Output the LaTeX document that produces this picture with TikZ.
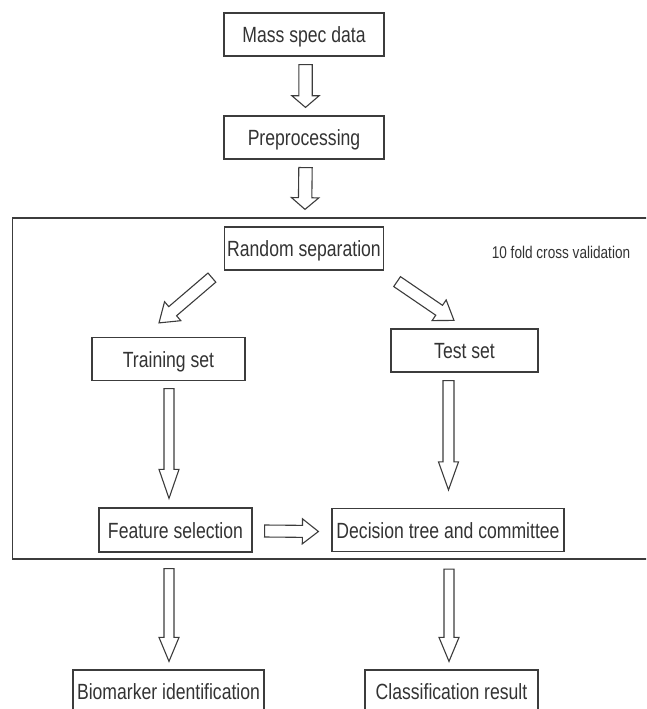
\documentclass[tikz,border=0pt]{standalone}
\usepackage{fontspec}
\setmainfont[FakeStretch=0.8]{Liberation Sans}
\usepackage{xcolor}
\usepackage{tikz}
\usetikzlibrary{positioning, calc}

\definecolor{ink}{HTML}{333333}
\definecolor{linegray}{HTML}{3C3C3C}

\tikzset{
  bashaft/.store in=\bashaft, bahead/.store in=\bahead, balen/.store in=\balen,
  blockarrow/.style={draw=linegray, fill=white, line width=1.1pt, line join=miter,
    bashaft=5pt, bahead=10pt, balen=28pt,
    to path={let \p1=(\tikztostart), \p2=(\tikztotarget), \p3=($(\p2)!\balen!(\p1)$) in
      ($(\p1)!\bashaft!90:(\p2)$) -- ($(\p3)!\bashaft!90:(\p2)$) -- ($(\p3)!\bahead!90:(\p2)$)
      -- (\p2) -- ($(\p3)!\bahead!-90:(\p2)$) -- ($(\p3)!\bashaft!-90:(\p2)$)
      -- ($(\p1)!\bashaft!-90:(\p2)$) -- cycle}},
}

\begin{document}
\begin{tikzpicture}[x=1pt, y=-1pt, on grid,
    font=\fontsize{22}{26}\selectfont,
    box/.style={draw=linegray, line width=1.2pt, text=ink, inner sep=0pt,
      text height=16pt, text depth=0pt, minimum height=43pt},
    note/.style={text=ink, inner sep=0pt, font=\fontsize{17}{20}\selectfont},
    frame/.style={draw=linegray, line width=1.4pt}]
        \clip (0,0) rectangle (646,709);

        \node[box, minimum width=160pt] (msd) at (304,34.5) {Mass spec data};
        \node[box, minimum width=160pt] (pre) [below=103pt of msd] {Preprocessing};
        \node[box, minimum width=159pt] (rnd) [below=111pt of pre] {Random separation};
        \node[note, anchor=base] (cv) at (561,258) {10 fold cross validation};
        \node[box, minimum width=153pt] (trn) at (168.5,359) {Training set};
        \node[box, minimum width=147pt] (tst) at (464.5,350.5) {Test set};
        \node[box, minimum width=153pt, minimum height=44pt] (fea) at (175.5,530) {Feature selection};
        \node[box, minimum width=232pt] (dec) [right=272.5pt of fea] {Decision tree and committee};
        \node[box, minimum width=191pt] (bio) at (168.5,691.5) {Biomarker identification};
        \node[box, minimum width=173pt] (cls) [right=283pt of bio] {Classification result};

        % cross validation frame
        \draw[frame] (12.5,218) rectangle (662,559);

        \draw[blockarrow, bashaft=6.7pt, bahead=13.7pt, balen=11.7pt]
            ($(msd.south)+(1.5,8)$) to ($(pre.north)+(1.5,-8)$);
        \draw[blockarrow, bashaft=6.7pt, bahead=13.7pt, balen=11.7pt]
            ($(pre.south)+(1.5,8)$) to ($(rnd.north)+(1,-17)$);
        \draw[blockarrow, bashaft=6pt, bahead=12.5pt, balen=18pt]
            ($(rnd.south west)+(-12,7)$) to ($(trn.north)+(-9.5,-14)$);
        \draw[blockarrow, bashaft=6pt, bahead=12.5pt, balen=18pt]
            ($(rnd.south east)+(13,11)$) to ($(tst.north)+(-10.5,-8)$);
        \draw[blockarrow, balen=29pt] ($(trn.south)+(0.5,7.5)$) to ($(fea.north)+(-6.5,-9)$);
        \draw[blockarrow, bashaft=5.5pt] ($(tst.south)+(-16,8)$) to ($(dec.north)+(0.5,-18)$);
        \draw[blockarrow, bashaft=6pt, bahead=12.5pt, balen=16pt]
            ($(fea.east)+(12,1)$) to ($(dec.west)+(-13,1.5)$);
        \draw[blockarrow, balen=24pt] ($(fea.south)+(-6.5,16)$) to ($(bio.north)+(0.5,-8)$);
        \draw[blockarrow, balen=24pt] ($(dec.south)+(1,17)$) to ($(cls.north)+(-2.5,-8)$);
\end{tikzpicture}
\end{document}
